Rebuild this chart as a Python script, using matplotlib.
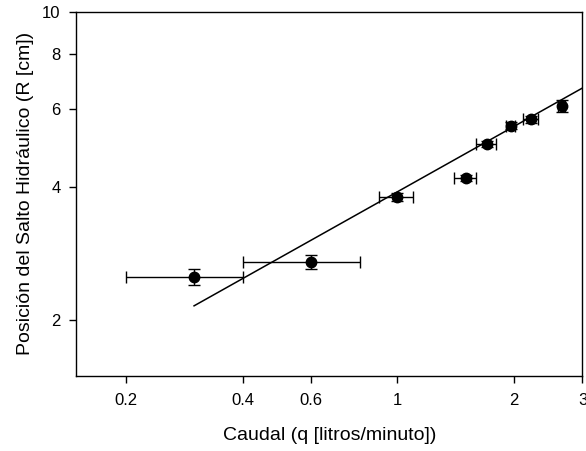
import matplotlib.pyplot as plt
from matplotlib.ticker import FixedLocator, NullLocator, FixedFormatter

plt.rcParams['font.family'] = ['Liberation Sans', 'DejaVu Sans']

# measured points: caudal q [l/min] vs posicion R [cm]
q = [0.30, 0.60, 1.00, 1.50, 1.70, 1.96, 2.21, 2.65]
R = [2.50, 2.70, 3.79, 4.19, 5.01, 5.51, 5.70, 6.12]
q_err = [0.10, 0.20, 0.10, 0.10, 0.10, 0.05, 0.10, 0.05]
R_err = [0.10, 0.10, 0.08, 0.07, 0.08, 0.10, 0.10, 0.20]

# fitted power law (straight line in log-log), end points
fit_q = [0.30, 3.2]
fit_R = [2.15, 6.93]

xticks = [0.2, 0.4, 0.6, 1, 2, 3]
xticklabels = ['0.2', '0.4', '0.6', '1', '2', '3']
yticks = [2, 4, 6, 8, 10]
yticklabels = ['2', '4', '6', '8', '10']

fig = plt.figure(figsize=(5.86, 4.51), dpi=100)
ax = fig.add_axes([0.1297, 0.1663, 0.8643, 0.8077])

ax.plot(fit_q, fit_R, color='black', lw=1.1, zorder=2)
ax.errorbar(q, R, xerr=q_err, yerr=R_err, fmt='o', color='black', ms=7.5,
            ecolor='black', elinewidth=1, capsize=4, capthick=1, zorder=3)

ax.set_xscale('log')
ax.set_yscale('log')
ax.set_xlim(0.149, 3.0)
ax.set_ylim(1.49, 10)

ax.xaxis.set_major_locator(FixedLocator(xticks))
ax.xaxis.set_major_formatter(FixedFormatter(xticklabels))
ax.xaxis.set_minor_locator(NullLocator())
ax.yaxis.set_major_locator(FixedLocator(yticks))
ax.yaxis.set_major_formatter(FixedFormatter(yticklabels))
ax.yaxis.set_minor_locator(NullLocator())

ax.tick_params(direction='out', length=5, width=1, labelsize=12)
ax.tick_params(axis='x', pad=7)
ax.tick_params(axis='y', pad=6)
for s in ax.spines.values():
    s.set_linewidth(1)

ax.set_xlabel('Caudal (q [litros/minuto])', fontsize=14, labelpad=14)
ax.set_ylabel('Posición del Salto Hidráulico (R [cm])', fontsize=14, labelpad=6)

fig.savefig('out.png', dpi=100)
